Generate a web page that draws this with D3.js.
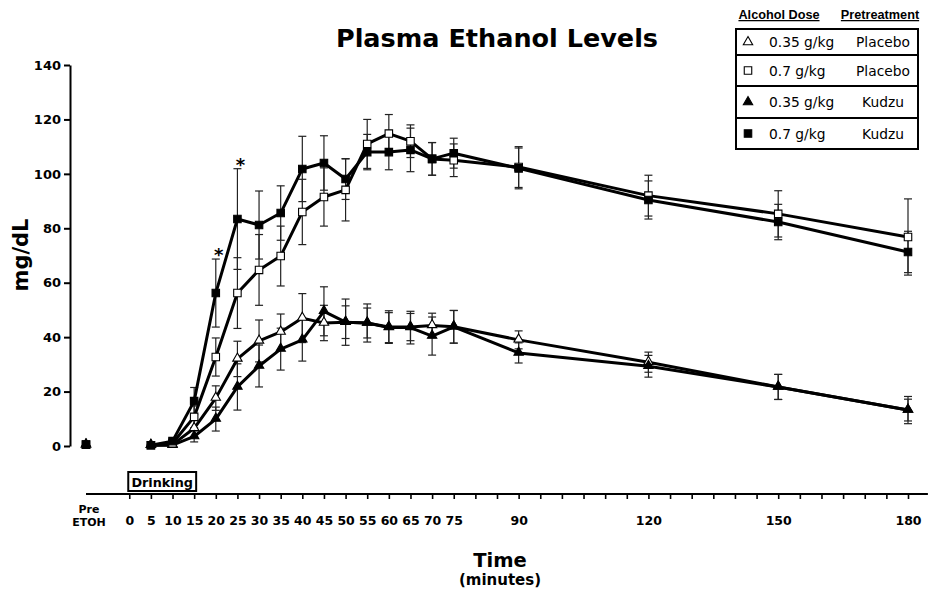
<!DOCTYPE html>
<html><head><meta charset="utf-8">
<script src="https://cdn.jsdelivr.net/npm/d3@7"></script>
<style>body{margin:0;background:#fff}svg{display:block}</style>
</head><body>
<svg id="c" width="928" height="595"></svg>
<script>
const times = [5,10,15,20,25,30,35,40,45,50,55,60,65,70,75,90,120,150,180];
const preTime = -10;
const preValue = 0.5;
const placebo035 = [0.3,0.5,6.5,17.6,32,38.6,41.9,47,45.2,45.5,45.2,43.7,43.7,44.3,43.8,39,30.8,21.7,13.2];
const placebo035Err = [0.3,0.5,3,4.5,6.5,7.7,6.6,9,6.5,8.5,7,6,5,4.5,6,3.3,3.7,4.6,4];
const placebo07 = [0.3,1,10.7,32.7,56.2,64.7,69.8,86,91.5,94.1,111,114.8,112,105.5,105,102.5,92,85.3,76.8];
const placebo07Err = [0.3,1,4,7,13,13,11,12,10.7,11.4,9,7,6,6,6,7.5,7.5,8.5,14];
const kudzu035 = [0.3,0.3,3.5,9.9,21.7,29.4,35.6,39,49.5,45.5,45.2,43.5,43.5,40.4,43.8,34.2,29.3,21.7,13.2];
const kudzu035Err = [0.3,0.3,2,4.4,8.5,7.7,7.7,7.8,9,6,5.5,5.5,6,7,6,3.7,4,4.6,5];
const kudzu07 = [0.3,1.8,16.5,56.2,83.4,81.2,85.6,101.8,104,98.1,108,108,108.8,105.5,107.6,102,90.4,82.3,71.3];
const kudzu07Err = [0.3,1,5,12.5,18.5,12.5,10,12,10,7.5,6.5,6.5,8,6,5.5,7.5,7,6.5,7.6];
const yTicks = [0,20,40,60,80,100,120,140];
const xTicks = d3.range(0,181,5);
const xLabeled = [0,5,10,15,20,25,30,35,40,45,50,55,60,65,70,75,90,120,150,180];
const starTimes = [20,25];
const drinking = [0,15];
const legendDose = ["0.35 g/kg","0.7 g/kg","0.35 g/kg","0.7 g/kg"];
const legendPre = ["Placebo","Placebo","Kudzu","Kudzu"];

const series = [
  {v:placebo035, e:placebo035Err, shape:"tri", fill:"#fff"},
  {v:kudzu035, e:kudzu035Err, shape:"tri", fill:"#000"},
  {v:placebo07, e:placebo07Err, shape:"sq", fill:"#fff"},
  {v:kudzu07, e:kudzu07Err, shape:"sq", fill:"#000"}
];
const legendOrder = [0,2,1,3];

const svg = d3.select("#c");
const F = "'DejaVu Sans', Verdana, sans-serif";
const x = d3.scaleLinear().domain([-10,180]).range([86,908]);
const y = d3.scaleLinear().domain([0,140]).range([446,65]);

const symSq = d3.symbol().type(d3.symbolSquare).size(56);
const symTri = d3.symbol().type(d3.symbolTriangle).size(38);

// Title
svg.append("text").attr("x",497).attr("y",47).attr("text-anchor","middle")
  .attr("font-family",F).attr("font-weight","bold").attr("font-size",25.5).text("Plasma Ethanol Levels");

// Y axis
const ya = svg.append("g").attr("transform",`translate(${x(-10)-16},0)`)
  .call(d3.axisLeft(y).tickValues(yTicks).tickSize(6).tickPadding(3).tickSizeOuter(0));
ya.select(".domain").attr("stroke-width",2);
ya.selectAll(".tick line").attr("stroke-width",2);
ya.selectAll("text").attr("font-family",F).attr("font-weight","bold").attr("font-size",13).attr("fill","#000");

svg.append("text").attr("transform","translate(28,255) rotate(-90)").attr("text-anchor","middle")
  .attr("font-family",F).attr("font-weight","bold").attr("font-size",21).text("mg/dL");

// X axis
const axY = 494;
const xa = svg.append("g").attr("transform",`translate(0,${axY})`)
  .call(d3.axisBottom(x).tickValues(xTicks).tickSize(5).tickPadding(17)
    .tickFormat(d => xLabeled.includes(d) ? d : ""));
xa.select(".domain").remove();
xa.selectAll(".tick line").attr("stroke-width",1.6);
xa.selectAll("text").attr("font-family",F).attr("font-weight","bold").attr("font-size",12.5).attr("fill","#000");
svg.append("line").attr("x1",x(-10)).attr("x2",x(184.6)).attr("y1",axY).attr("y2",axY)
  .attr("stroke","#000").attr("stroke-width",2);
const pre = svg.append("text").attr("text-anchor","middle").attr("font-family",F).attr("font-weight","bold").attr("font-size",11);
pre.append("tspan").attr("x",x(preTime)+3).attr("y",513).text("Pre");
pre.append("tspan").attr("x",x(preTime)+3).attr("y",526).text("ETOH");

svg.append("text").attr("x",500).attr("y",567).attr("text-anchor","middle")
  .attr("font-family",F).attr("font-weight","bold").attr("font-size",19.5).text("Time");
svg.append("text").attr("x",500).attr("y",585).attr("text-anchor","middle")
  .attr("font-family",F).attr("font-weight","bold").attr("font-size",15).text("(minutes)");

// Drinking box
svg.append("rect").attr("x",x(drinking[0])-1).attr("y",472).attr("width",x(drinking[1])-x(drinking[0])+3).attr("height",19)
  .attr("fill","none").attr("stroke","#000").attr("stroke-width",2);
svg.append("text").attr("x",(x(drinking[0])+x(drinking[1]))/2+0.5).attr("y",487).attr("text-anchor","middle")
  .attr("font-family",F).attr("font-weight","bold").attr("font-size",12.8).text("Drinking");

// Error bars
const eg = svg.append("g").attr("stroke","#222").attr("stroke-width",1.2);
series.forEach(s => {
  times.forEach((t,i) => {
    const cx = x(t), y1 = y(s.v[i]+s.e[i]), y2 = y(Math.max(0,s.v[i]-s.e[i]));
    eg.append("line").attr("x1",cx).attr("x2",cx).attr("y1",y1).attr("y2",y2);
    eg.append("line").attr("x1",cx-4).attr("x2",cx+4).attr("y1",y1).attr("y2",y1);
    eg.append("line").attr("x1",cx-4).attr("x2",cx+4).attr("y1",y2).attr("y2",y2);
  });
});

// Lines
const line = d3.line().x((d,i)=>x(times[i])).y(d=>y(d));
series.forEach(s => {
  svg.append("path").datum(s.v).attr("d",line).attr("fill","none").attr("stroke","#000")
    .attr("stroke-width",3).attr("stroke-linejoin","round");
});

// Markers
series.forEach(s => {
  const g = svg.append("g");
  const pts = times.map((t,i)=>[x(t),y(s.v[i])]);
  pts.push([x(preTime), y(preValue)]);
  g.selectAll("path").data(pts).join("path")
    .attr("d", s.shape==="sq" ? symSq : symTri)
    .attr("transform", d => `translate(${d[0]},${d[1] + (s.shape==="tri"?-0.5:0)})`)
    .attr("fill", s.fill).attr("stroke","#000").attr("stroke-width",1.1);
});

// Asterisks
starTimes.forEach(t => {
  const i = times.indexOf(t);
  svg.append("text").attr("x",x(t)+3).attr("y",y(kudzu07[i]+kudzu07Err[i])+2).attr("text-anchor","middle")
    .attr("font-family",F).attr("font-weight","bold").attr("font-size",18).text("*");
});

// Legend
const LF = "'Liberation Sans', Arial, sans-serif";
svg.append("text").attr("x",779).attr("y",19).attr("text-anchor","middle").attr("font-family",LF)
  .attr("font-weight","bold").attr("font-size",12.7).attr("text-decoration","underline").text("Alcohol Dose");
svg.append("text").attr("x",880).attr("y",19).attr("text-anchor","middle").attr("font-family",LF)
  .attr("font-weight","bold").attr("font-size",12.7).attr("text-decoration","underline").text("Pretreatment");
const rowEdges = [29,55,86,118,149];
const lg = svg.append("g");
legendOrder.forEach((si,r) => {
  const s = series[si];
  const top = rowEdges[r], bot = rowEdges[r+1], cy = (top+bot)/2;
  lg.append("rect").attr("x",736).attr("y",top).attr("width",182).attr("height",bot-top)
    .attr("fill","none").attr("stroke","#000").attr("stroke-width",2);
  lg.append("path").attr("d", s.shape==="sq" ? symSq : symTri)
    .attr("transform",`translate(748,${cy})`).attr("fill",s.fill).attr("stroke","#000").attr("stroke-width",1.1);
  lg.append("text").attr("x",769).attr("y",cy+5).attr("font-family",F).attr("font-size",13.8).text(legendDose[r]);
  lg.append("text").attr("x",883).attr("y",cy+5).attr("text-anchor","middle").attr("font-family",F).attr("font-size",13.8).text(legendPre[r]);
});
</script>
</body></html>
